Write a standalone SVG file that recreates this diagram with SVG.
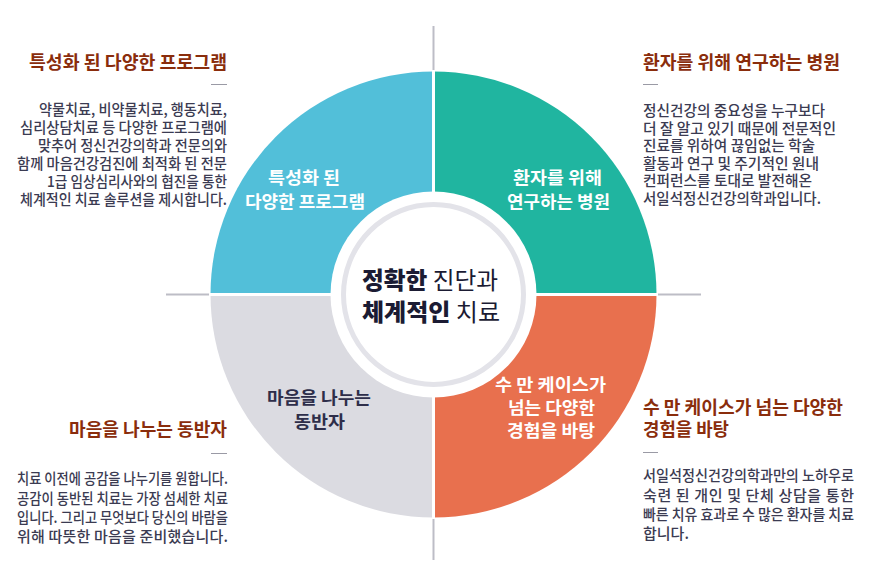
<svg xmlns="http://www.w3.org/2000/svg" width="883" height="585" viewBox="0 0 883 585">
<style>
.ttl{font-family:"Noto Sans CJK KR","Noto Sans",sans-serif;font-size:18px;font-weight:700;fill:#8a2d0c}
.body{font-family:"Noto Sans CJK KR","Noto Sans",sans-serif;font-size:15px;font-weight:500;fill:#3b3b52}
.ql{font-family:"Noto Sans CJK KR","Noto Sans",sans-serif;font-size:17.5px;font-weight:600;fill:#ffffff;text-anchor:middle}
.dk{fill:#2e2e4a}
.ctr{font-family:"Noto Sans CJK KR","Noto Sans",sans-serif;font-size:24px;fill:#1b1b33;text-anchor:middle}
.axis{stroke:#bdbdc6;stroke-width:2;fill:none}
.dash{stroke:#9a9aa5;stroke-width:1;fill:none}
.gap{stroke:#ffffff;stroke-width:3;fill:none}
</style>
<rect width="883" height="585" fill="#ffffff"/>
<g id="connectors">
<line class="axis" x1="433.5" y1="26" x2="433.5" y2="72"/>
<line class="axis" x1="433.5" y1="517" x2="433.5" y2="560"/>
<line class="axis" x1="166" y1="294.5" x2="211" y2="294.5"/>
<line class="axis" x1="656" y1="294.5" x2="701" y2="294.5"/>
</g>
<g id="q-topleft">
<path d="M433.5,294.5 L210.5,294.5 A223,223 0 0 1 433.5,71.5 Z" fill="#52bfd9"/>
<text class="ql" x="304" y="184" textLength="72" lengthAdjust="spacingAndGlyphs">특성화 된</text>
<text class="ql" x="305" y="208" textLength="120" lengthAdjust="spacingAndGlyphs">다양한 프로그램</text>
</g>
<g id="q-topright">
<path d="M433.5,294.5 L433.5,71.5 A223,223 0 0 1 656.5,294.5 Z" fill="#20b5a0"/>
<text class="ql" x="557.5" y="184" textLength="89" lengthAdjust="spacingAndGlyphs">환자를 위해</text>
<text class="ql" x="558.5" y="208" textLength="103" lengthAdjust="spacingAndGlyphs">연구하는 병원</text>
</g>
<g id="q-bottomright">
<path d="M433.5,294.5 L656.5,294.5 A223,223 0 0 1 433.5,517.5 Z" fill="#e8704e"/>
<text class="ql" x="550.5" y="391" textLength="111" lengthAdjust="spacingAndGlyphs">수 만 케이스가</text>
<text class="ql" x="551.5" y="414" textLength="87" lengthAdjust="spacingAndGlyphs">넘는 다양한</text>
<text class="ql" x="551" y="437" textLength="88" lengthAdjust="spacingAndGlyphs">경험을 바탕</text>
</g>
<g id="q-bottomleft">
<path d="M433.5,294.5 L433.5,517.5 A223,223 0 0 1 210.5,294.5 Z" fill="#dbdbe1"/>
<text class="ql dk" x="319" y="404" textLength="104" lengthAdjust="spacingAndGlyphs">마음을 나누는</text>
<text class="ql dk" x="319.5" y="428" textLength="51" lengthAdjust="spacingAndGlyphs">동반자</text>
</g>
<g id="gaps">
<line class="gap" x1="433.5" y1="70" x2="433.5" y2="519"/>
<line class="gap" x1="209" y1="294.5" x2="658" y2="294.5"/>
</g>
<g id="center">
<circle cx="433.5" cy="294.5" r="103" fill="#ffffff"/>
<circle cx="433.5" cy="294.5" r="90" fill="#ffffff" stroke="#e3e3e9" stroke-width="5"/>
<text class="ctr" x="430" y="289" textLength="136" lengthAdjust="spacingAndGlyphs"><tspan font-weight="800">정확한</tspan> 진단과</text>
<text class="ctr" x="431" y="321" textLength="138" lengthAdjust="spacingAndGlyphs"><tspan font-weight="800">체계적인</tspan> 치료</text>
</g>
<g id="desc-topleft" text-anchor="end">
<text class="ttl" x="227" y="69" textLength="198" lengthAdjust="spacingAndGlyphs">특성화 된 다양한 프로그램</text>
<line class="dash" x1="211" y1="84.5" x2="227" y2="84.5"/>
<text class="body" x="227" y="115" textLength="188" lengthAdjust="spacingAndGlyphs">약물치료, 비약물치료, 행동치료,</text>
<text class="body" x="227" y="133" textLength="207" lengthAdjust="spacingAndGlyphs">심리상담치료 등 다양한 프로그램에</text>
<text class="body" x="227" y="151" textLength="189" lengthAdjust="spacingAndGlyphs">맞추어 정신건강의학과 전문의와</text>
<text class="body" x="227" y="169" textLength="210" lengthAdjust="spacingAndGlyphs">함께 마음건강검진에 최적화 된 전문</text>
<text class="body" x="227" y="187" textLength="180" lengthAdjust="spacingAndGlyphs">1급 임상심리사와의 협진을 통한</text>
<text class="body" x="227" y="205" textLength="207" lengthAdjust="spacingAndGlyphs">체계적인 치료 솔루션을 제시합니다.</text>
</g>
<g id="desc-topright">
<text class="ttl" x="643" y="69" textLength="197" lengthAdjust="spacingAndGlyphs">환자를 위해 연구하는 병원</text>
<line class="dash" x1="643" y1="84.5" x2="658" y2="84.5"/>
<text class="body" x="643" y="116" textLength="182" lengthAdjust="spacingAndGlyphs">정신건강의 중요성을 누구보다</text>
<text class="body" x="643" y="134" textLength="193" lengthAdjust="spacingAndGlyphs">더 잘 알고 있기 때문에 전문적인</text>
<text class="body" x="643" y="151" textLength="172" lengthAdjust="spacingAndGlyphs">진료를 위하여 끊임없는 학술</text>
<text class="body" x="643" y="169" textLength="176" lengthAdjust="spacingAndGlyphs">활동과 연구 및 주기적인 원내</text>
<text class="body" x="643" y="186" textLength="169" lengthAdjust="spacingAndGlyphs">컨퍼런스를 토대로 발전해온</text>
<text class="body" x="643" y="204" textLength="178" lengthAdjust="spacingAndGlyphs">서일석정신건강의학과입니다.</text>
</g>
<g id="desc-bottomleft" text-anchor="end">
<text class="ttl" x="227" y="436" textLength="158" lengthAdjust="spacingAndGlyphs">마음을 나누는 동반자</text>
<line class="dash" x1="211" y1="453.5" x2="227" y2="453.5"/>
<text class="body" x="228" y="484" textLength="211" lengthAdjust="spacingAndGlyphs">치료 이전에 공감을 나누기를 원합니다.</text>
<text class="body" x="228" y="504" textLength="211" lengthAdjust="spacingAndGlyphs">공감이 동반된 치료는 가장 섬세한 치료</text>
<text class="body" x="228" y="523" textLength="211" lengthAdjust="spacingAndGlyphs">입니다. 그리고 무엇보다 당신의 바람을</text>
<text class="body" x="228" y="542" textLength="211" lengthAdjust="spacing">위해  따뜻한  마음을  준비했습니다.</text>
</g>
<g id="desc-bottomright">
<text class="ttl" x="643" y="414" textLength="200" lengthAdjust="spacingAndGlyphs">수 만 케이스가 넘는 다양한</text>
<text class="ttl" x="643" y="436" textLength="86" lengthAdjust="spacingAndGlyphs">경험을 바탕</text>
<line class="dash" x1="643" y1="452.5" x2="658" y2="452.5"/>
<text class="body" x="643" y="481" textLength="211" lengthAdjust="spacingAndGlyphs">서일석정신건강의학과만의 노하우로</text>
<text class="body" x="643" y="501" textLength="211" lengthAdjust="spacing">숙련 된 개인 및 단체 상담을 통한</text>
<text class="body" x="643" y="520" textLength="211" lengthAdjust="spacingAndGlyphs">빠른 치유 효과로 수 많은 환자를 치료</text>
<text class="body" x="643" y="539">합니다.</text>
</g>
</svg>
